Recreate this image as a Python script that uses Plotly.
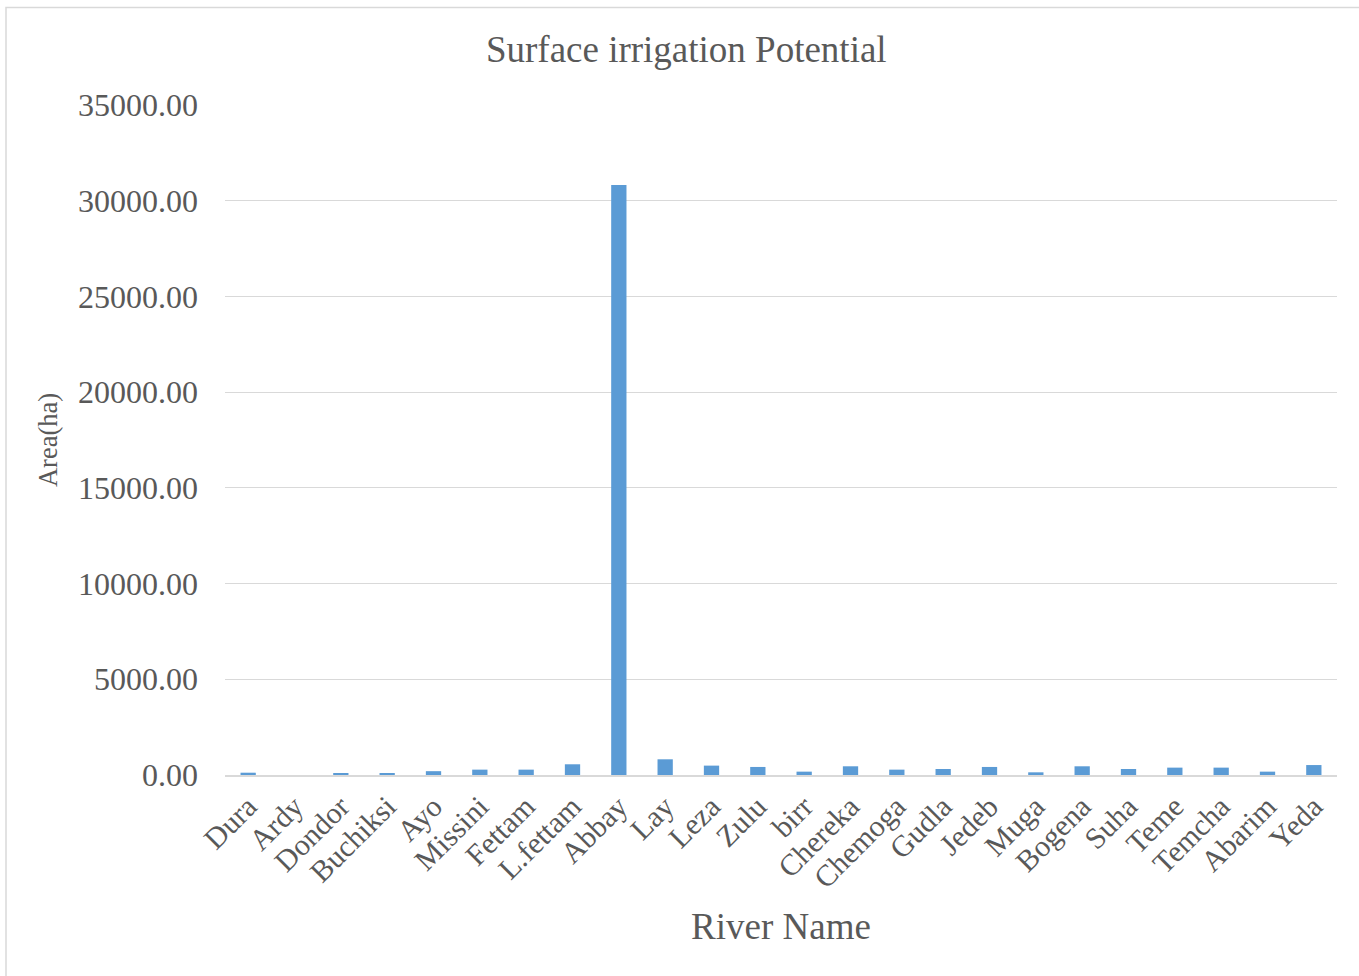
import plotly.graph_objects as go

# River names and surface irrigation potential (ha)
rivers = ["Dura", "Ardy", "Dondor", "Buchiksi", "Ayo", "Missini", "Fettam", "L.fettam",
          "Abbay", "Lay", "Leza", "Zulu", "birr", "Chereka", "Chemoga", "Gudla", "Jedeb",
          "Muga", "Bogena", "Suha", "Teme", "Temcha", "Abarim", "Yeda"]
area_ha = [120, 0, 90, 60, 200, 280, 280, 560,
           30820, 820, 490, 420, 175, 455, 280, 315, 420,
           140, 455, 315, 385, 385, 175, 520]

y_ticks = [0, 5000, 10000, 15000, 20000, 25000, 30000, 35000]

FONT = "Liberation Serif, Times New Roman, serif"
TEXT = "#595959"
GRID = "#d9d9d9"

W, H = 1359, 976
L, R, T, B = 225, 22, 105, 201
pw, ph = W - L - R, H - T - B

fig = go.Figure(go.Bar(
    x=rivers, y=area_ha,
    marker=dict(color="#5b9bd5", line=dict(width=0)),
))

fig.update_layout(
    width=W, height=H,
    margin=dict(l=L, r=R, t=T, b=B),
    paper_bgcolor="white", plot_bgcolor="white",
    bargap=0.67,
    showlegend=False,
    font=dict(family=FONT, color=TEXT),
    title=dict(text="Surface irrigation Potential", x=0.505, xanchor="center",
               y=1 - 49 / H, yanchor="middle",
               font=dict(size=37, family=FONT, color=TEXT)),
    xaxis=dict(
        tickangle=-45, tickfont=dict(size=30, family=FONT, color=TEXT),
        showgrid=False, showline=True, linecolor=GRID, linewidth=2,
        ticks="", title=dict(text="River Name", standoff=20,
                             font=dict(size=37, family=FONT, color=TEXT)),
    ),
    yaxis=dict(
        range=[0, 35000], tickvals=y_ticks, tickformat=".2f",
        tickfont=dict(size=32, family=FONT, color=TEXT),
        ticklabelstandoff=26,
        showgrid=True, gridcolor=GRID, gridwidth=1.3,
        zeroline=False, showline=False, ticks="", ticklen=0,
        title=dict(text="Area(ha)", standoff=12,
                   font=dict(size=26.5, family=FONT, color=TEXT)),
    ),
    shapes=[dict(
        type="rect", xref="paper", yref="paper",
        x0=(6 - L) / pw, x1=(W + 5 - L) / pw,
        y0=-(H + 5 - T - ph) / ph, y1=(T + ph - 7.5) / ph,
        line=dict(color=GRID, width=1.5), fillcolor="rgba(0,0,0,0)",
        layer="below",
    )],
)

fig.write_html("out.html")
